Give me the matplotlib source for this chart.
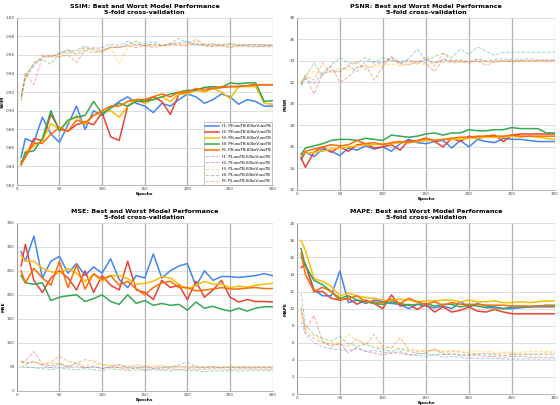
import matplotlib
matplotlib.use('Agg')
import matplotlib.pyplot as plt

epochs = [5, 10, 20, 30, 40, 50, 60, 70, 80, 90, 100, 110, 120, 130, 140, 150,
          160, 170, 180, 190, 200, 210, 220, 230, 240, 250, 260, 270, 280, 290, 300]

folds = ['f1', 'f2', 'f3', 'f4', 'f5']
colors = ['#4285F4', '#EA4335', '#FBBC04', '#34A853', '#FF6D01']

# SSIM
ssim_ph = [
    [0.850,0.870,0.866,0.893,0.875,0.866,0.885,0.905,0.880,0.900,0.895,0.903,0.910,0.915,0.908,0.905,0.898,0.908,0.905,0.912,0.918,0.915,0.908,0.912,0.918,0.915,0.907,0.912,0.910,0.905,0.905],
    [0.845,0.850,0.870,0.868,0.896,0.880,0.878,0.885,0.888,0.885,0.898,0.872,0.868,0.905,0.912,0.910,0.915,0.910,0.896,0.918,0.920,0.922,0.925,0.924,0.925,0.926,0.926,0.927,0.928,0.928,0.928],
    [0.842,0.856,0.862,0.868,0.886,0.880,0.888,0.895,0.885,0.895,0.898,0.900,0.893,0.905,0.912,0.908,0.912,0.915,0.910,0.918,0.918,0.922,0.920,0.924,0.920,0.913,0.926,0.926,0.926,0.908,0.907],
    [0.842,0.855,0.857,0.870,0.900,0.878,0.890,0.893,0.895,0.910,0.897,0.903,0.908,0.905,0.910,0.910,0.912,0.915,0.918,0.920,0.922,0.922,0.925,0.926,0.925,0.930,0.929,0.930,0.930,0.910,0.911],
    [0.842,0.850,0.865,0.865,0.875,0.882,0.878,0.890,0.887,0.895,0.900,0.905,0.905,0.910,0.912,0.912,0.915,0.918,0.915,0.920,0.920,0.924,0.922,0.924,0.926,0.926,0.926,0.927,0.928,0.928,0.928],
]
ssim_pl = [
    [0.915,0.935,0.948,0.958,0.958,0.962,0.965,0.965,0.970,0.967,0.968,0.972,0.970,0.975,0.970,0.972,0.975,0.970,0.972,0.973,0.975,0.970,0.972,0.971,0.970,0.972,0.970,0.971,0.971,0.970,0.970],
    [0.915,0.940,0.928,0.958,0.960,0.958,0.960,0.952,0.965,0.962,0.965,0.968,0.968,0.970,0.968,0.970,0.968,0.970,0.972,0.970,0.970,0.972,0.970,0.969,0.970,0.968,0.970,0.970,0.969,0.970,0.970],
    [0.912,0.938,0.950,0.956,0.958,0.960,0.962,0.965,0.968,0.966,0.962,0.968,0.950,0.968,0.972,0.970,0.972,0.970,0.973,0.972,0.970,0.975,0.972,0.971,0.972,0.971,0.972,0.971,0.971,0.971,0.971],
    [0.910,0.935,0.952,0.955,0.950,0.962,0.963,0.962,0.968,0.965,0.963,0.970,0.968,0.972,0.975,0.970,0.972,0.970,0.972,0.978,0.973,0.972,0.970,0.972,0.971,0.972,0.971,0.971,0.971,0.971,0.971],
    [0.915,0.938,0.950,0.960,0.958,0.962,0.966,0.960,0.965,0.968,0.965,0.968,0.968,0.970,0.972,0.970,0.970,0.970,0.970,0.972,0.972,0.977,0.970,0.970,0.970,0.969,0.970,0.969,0.969,0.969,0.969],
]

# PSNR
psnr_ph = [
    [24.8,25.5,25.1,25.8,25.6,25.2,25.9,25.7,26.1,25.8,26.0,25.6,26.3,26.7,26.4,26.3,26.5,26.6,25.9,26.6,26.0,26.7,26.5,26.4,26.8,26.7,26.7,26.6,26.5,26.5,26.5],
    [25.0,24.1,25.5,26.0,25.5,26.0,25.6,26.2,26.3,25.9,26.0,26.2,25.7,26.6,26.5,26.8,26.5,26.0,26.8,26.5,27.0,26.8,27.0,27.1,26.5,27.1,27.2,27.2,27.2,27.2,27.2],
    [25.3,25.4,25.5,25.6,25.8,25.9,26.0,26.1,26.2,26.2,26.3,26.3,26.4,26.4,26.5,26.6,26.6,26.7,26.7,26.7,26.8,26.8,26.9,26.9,26.9,27.0,26.9,27.0,26.9,26.8,26.7],
    [25.3,25.9,26.1,26.3,26.6,26.7,26.7,26.6,26.8,26.7,26.6,27.1,27.0,26.9,27.0,27.2,27.3,27.1,27.3,27.3,27.6,27.5,27.5,27.6,27.6,27.8,27.7,27.7,27.7,27.3,27.3],
    [25.0,25.6,25.8,26.0,26.2,26.1,26.2,26.6,26.3,26.4,26.2,26.4,26.5,26.4,26.6,26.8,26.6,26.7,26.8,26.9,26.9,27.0,27.0,27.0,27.0,27.1,27.0,27.0,27.0,27.0,27.0],
]
psnr_pl = [
    [31.8,32.3,31.9,32.8,33.1,33.0,33.5,33.0,34.0,33.8,33.9,34.3,33.8,34.1,33.9,34.1,33.8,34.1,34.0,34.1,33.9,34.2,34.0,34.1,34.2,34.1,34.1,34.2,34.1,34.1,34.1],
    [31.8,32.6,30.9,32.9,33.5,32.0,32.5,33.4,33.6,32.2,33.5,34.4,33.8,33.6,34.0,33.8,33.0,34.2,33.8,33.9,33.8,34.0,33.6,33.9,34.0,33.9,34.0,34.0,34.0,34.0,34.0],
    [32.0,32.8,33.0,32.8,33.0,33.3,33.2,33.4,33.5,33.4,33.6,33.7,33.5,33.7,33.8,33.6,33.9,33.8,34.1,33.9,34.0,33.9,34.0,33.8,34.0,34.0,34.0,34.0,34.0,34.0,34.0],
    [31.7,32.5,33.8,32.6,33.6,34.3,33.8,33.8,34.3,33.9,34.3,34.0,33.9,34.2,35.1,34.0,34.4,34.7,34.3,35.1,34.6,35.3,34.9,34.5,34.8,34.8,34.8,34.8,34.8,34.8,34.8],
    [32.0,32.6,32.2,33.8,32.9,33.0,33.6,33.9,33.2,33.6,33.8,34.2,33.6,34.0,33.7,34.4,33.5,34.7,34.0,34.0,33.9,34.1,33.9,34.0,34.0,34.0,34.0,34.0,34.0,34.0,34.0],
]

# MSE
mse_ph = [
    [290,270,322,235,270,280,245,265,240,258,245,275,232,215,240,235,285,235,250,260,265,218,250,230,238,238,236,238,240,244,240],
    [260,305,230,205,235,250,235,210,250,205,240,220,210,270,210,205,190,230,215,220,190,228,195,210,230,195,185,190,186,186,185],
    [282,270,270,255,248,245,255,245,228,243,228,240,240,234,222,224,228,238,235,222,212,220,228,222,222,215,218,216,220,222,224],
    [240,225,222,225,188,195,198,200,186,192,200,186,180,200,182,188,178,182,178,180,168,185,172,176,170,166,172,166,172,175,175],
    [250,225,255,235,220,270,215,262,212,244,232,240,220,228,212,200,215,225,228,215,215,208,210,212,215,212,212,214,215,213,213],
]
mse_pl = [
    [62,55,62,52,48,55,50,58,48,52,46,50,55,48,47,50,46,48,50,54,60,50,48,50,48,49,48,48,48,48,48],
    [60,62,82,55,52,58,50,52,48,50,46,50,48,45,48,44,46,45,46,44,46,45,45,46,45,45,45,46,45,45,45],
    [60,58,60,55,58,55,52,58,52,58,52,55,50,52,55,52,54,52,50,52,50,52,50,51,50,52,50,51,50,50,50],
    [52,50,48,46,44,48,45,44,46,44,42,46,44,42,44,42,44,43,42,44,42,42,40,42,41,42,41,42,42,42,42],
    [62,58,60,55,60,72,62,58,65,62,55,52,54,50,52,50,50,52,50,51,50,50,50,50,49,50,50,50,50,50,50],
]

# MAPE
mape_ph = [
    [16.0,15.2,12.2,11.5,11.5,14.4,10.7,11.0,10.6,11.0,10.8,10.6,10.5,10.0,10.5,10.3,10.1,10.3,10.0,10.8,10.2,10.6,10.3,10.2,10.0,10.0,10.1,10.2,10.2,10.2,10.2],
    [14.8,15.2,12.0,12.0,11.2,11.0,11.2,10.5,11.0,10.6,10.0,11.6,10.3,10.5,9.9,10.5,9.6,10.2,9.6,9.8,10.2,9.7,9.6,9.9,9.6,9.4,9.4,9.4,9.4,9.4,9.4],
    [18.0,16.8,13.5,13.2,12.6,11.5,11.8,11.5,11.3,11.2,11.0,11.0,11.1,11.0,10.8,10.9,10.9,11.0,11.0,10.8,11.0,10.8,10.8,10.9,10.7,10.7,10.8,10.7,10.8,10.9,10.9],
    [17.0,15.0,13.3,12.8,12.0,11.2,11.5,11.0,10.8,10.6,10.5,10.8,10.6,10.4,10.5,10.6,10.3,10.5,10.5,10.2,10.4,10.3,10.1,10.1,10.0,10.2,10.2,10.2,10.3,10.4,10.4],
    [16.5,14.0,12.0,12.5,12.0,11.0,11.2,11.5,10.8,10.8,10.7,11.1,10.6,11.2,10.8,10.5,10.8,10.4,10.7,10.5,10.5,10.5,10.4,10.4,10.4,10.3,10.3,10.3,10.3,10.3,10.3],
]
mape_pl = [
    [8.5,7.0,6.0,5.5,5.3,5.2,5.1,5.3,5.0,5.1,4.9,4.8,5.0,4.6,4.5,4.4,4.6,4.3,4.4,4.3,4.2,4.2,4.2,4.2,4.1,4.1,4.1,4.1,4.1,4.1,4.1],
    [10.2,7.5,9.2,6.2,5.5,6.0,4.8,5.5,5.0,4.8,4.6,4.8,4.8,4.6,4.7,4.8,5.3,4.6,4.8,4.5,4.6,4.5,4.4,4.4,4.3,4.4,4.4,4.3,4.3,4.3,4.3],
    [9.5,7.5,6.8,6.2,6.0,6.0,7.0,6.2,6.0,5.6,5.4,5.5,5.3,5.2,5.2,5.1,5.1,5.0,5.2,5.0,5.1,5.0,5.0,4.9,4.9,4.9,4.9,5.0,5.0,5.0,5.0],
    [11.8,8.0,7.0,6.5,6.2,6.7,5.9,5.6,5.8,5.4,5.2,5.0,5.3,5.0,4.8,4.7,4.6,4.7,4.6,4.6,4.5,4.7,4.6,4.6,4.5,4.6,4.6,4.6,4.6,4.6,4.6],
    [9.8,7.2,6.5,6.0,5.8,5.8,5.6,6.5,5.7,7.0,5.5,5.4,6.6,5.2,5.0,5.0,5.2,4.9,5.0,4.9,4.8,4.7,4.8,4.7,4.7,4.7,4.7,4.7,4.7,4.8,4.8],
]

fig = plt.figure(figsize=(5.6, 4.05), dpi=100)

panels = [
    ('SSIM', ssim_ph, ssim_pl, (0.82, 1.0), 0.02, '%.2f', [0.030, 0.543, 0.457, 0.413]),
    ('PSNR', psnr_ph, psnr_pl, (22, 38), 2, '%d', [0.530, 0.531, 0.461, 0.425]),
    ('MSE', mse_ph, mse_pl, (0, 350), 50, '%d', [0.030, 0.035, 0.457, 0.415]),
    ('MAPE', mape_ph, mape_pl, (0, 20), 2, '%d', [0.530, 0.027, 0.461, 0.422]),
]

for name, ph, pl, ylim, ystep, fmt, pos in panels:
    ax = fig.add_axes(pos)
    for i in range(5):
        ax.plot(epochs, ph[i], color=colors[i], lw=1.1,
                label=folds[i] + ': PH-woTB-60keV-woTB')
    for i in range(5):
        ax.plot(epochs, pl[i], color=colors[i], lw=0.7, ls='--', alpha=0.45,
                label=folds[i] + ': PL-woTB-60keV-woTB')
    ax.set_xlim(0, 300)
    ax.set_ylim(*ylim)
    yt = []
    v = ylim[0]
    while v <= ylim[1] + 1e-9:
        yt.append(v)
        v += ystep
    ax.set_yticks(yt)
    ax.set_yticklabels([fmt % t for t in yt])
    ax.set_xticks(range(0, 301, 50))
    ax.tick_params(labelsize=3, length=0, pad=1.5, colors='#444444')
    ax.xaxis.grid(True, color='#b0b0b0', lw=0.9)
    ax.yaxis.grid(True, color='#d0d0d0', lw=0.5)
    ax.set_axisbelow(True)
    for s in ['top', 'right']:
        ax.spines[s].set_visible(False)
    for s in ['left', 'bottom']:
        ax.spines[s].set_color('#999999')
        ax.spines[s].set_linewidth(0.5)
    ax.set_xlabel('Epochs', fontsize=3.2, fontweight='bold', labelpad=0.5)
    ax.set_ylabel(name, fontsize=3.2, fontweight='bold', labelpad=1)
    ax.set_title(name + ': Best and Worst Model Performance\n5-fold cross-validation',
                 fontsize=4.6, fontweight='bold', pad=3, linespacing=1.2)
    if name == 'SSIM':
        leg = ax.legend(loc='lower right', fontsize=2.8, frameon=True, fancybox=False,
                        handlelength=3.5, borderpad=0.4, labelspacing=0.55,
                        borderaxespad=0.1)
        leg.get_frame().set_edgecolor('#999999')
        leg.get_frame().set_linewidth(0.5)

fig.savefig('out.png', dpi=100)
